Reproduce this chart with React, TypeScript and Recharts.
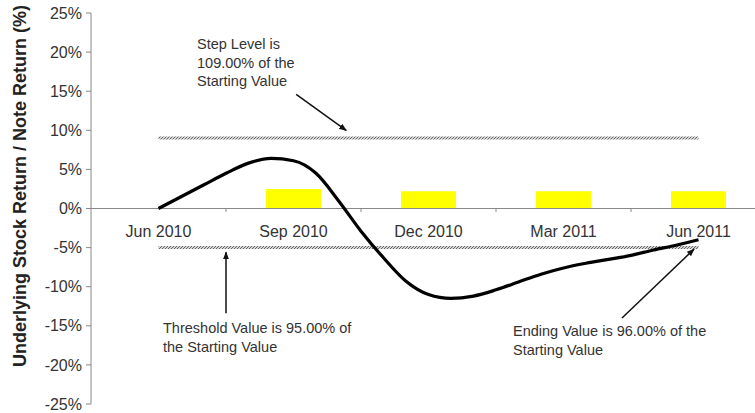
import {
  ComposedChart,
  Bar,
  Line,
  XAxis,
  YAxis,
  ReferenceLine,
} from 'recharts';

// quarterly observation dates + note return paid at each one
const categories = ['Jun 2010', 'Sep 2010', 'Dec 2010', 'Mar 2011', 'Jun 2011'];
const noteReturn = [null, 2.5, 2.2, 2.2, 2.2];

// underlying stock path, months after Jun 2010
const stockMonths = [0, 0.5, 1, 1.5, 2, 2.5, 3, 3.5, 4, 4.5, 5, 5.5, 6, 6.5, 7, 7.5, 8, 8.5, 9, 9.5, 10, 10.5, 11, 11.5, 12];
const stockReturn = [0, 1.5, 3.0, 4.5, 5.8, 6.4, 6.1, 4.5, 1.0, -2.9, -6.3, -9.3, -11.0, -11.5, -11.2, -10.4, -9.4, -8.4, -7.6, -7.0, -6.5, -6.0, -5.3, -4.7, -4.0];

const stepLevel = 9;
const thresholdLevel = -5;
const yTicks = [-25, -20, -15, -10, -5, 0, 5, 10, 15, 20, 25];

const barData = categories.map((cat, i) => ({ cat, note: noteReturn[i] }));
const stockData = stockMonths.map((m, i) => ({ m, v: stockReturn[i] }));
const firstM = stockMonths[0];
const lastM = stockMonths[stockMonths.length - 1];
const stepData = [{ m: firstM, v: stepLevel }, { m: lastM, v: stepLevel }];
const thresholdData = [{ m: firstM, v: thresholdLevel }, { m: lastM, v: thresholdLevel }];

// annotation arrows, in chart units (months, %)
const arrows = [
  { from: { x: 3.06, y: 14.6 }, to: { x: 4.17, y: 10.0 } },
  { from: { x: 1.5, y: -13.4 }, to: { x: 1.5, y: -5.6 } },
  { from: { x: 10.3, y: -14.0 }, to: { x: 11.9, y: -5.2 } },
];
const boundaryTicks = [1.5, 4.5, 7.5, 10.5];

const FONT = '"Liberation Sans", Arial, sans-serif';
const TOP = 13;
const PLOT_H = 391;
const ZERO_Y = TOP + PLOT_H / 2;

function CatTick({ x, payload }: any) {
  return (
    <text x={x} y={ZERO_Y + 28} textAnchor="middle" fontSize={16} fill="#333">
      {payload.value}
    </text>
  );
}

function ArrowShape(props: any) {
  return (
    <line
      x1={props.x1}
      y1={props.y1}
      x2={props.x2}
      y2={props.y2}
      stroke="#111"
      strokeWidth={1.5}
      markerEnd="url(#arrowHead)"
    />
  );
}

const noteStyle = {
  position: 'absolute' as const,
  fontSize: 14.5,
  lineHeight: '18.5px',
  color: '#333',
  whiteSpace: 'nowrap' as const,
};

export default function App() {
  return (
    <div
      style={{
        position: 'absolute',
        left: 0,
        top: 0,
        width: 755,
        height: 413,
        overflow: 'hidden',
        background: '#fff',
        fontFamily: FONT,
      }}
    >
      <ComposedChart
        width={775}
        height={413}
        data={barData}
        margin={{ top: TOP, right: 9, bottom: 0, left: 0 }}
      >
        <defs>
          <pattern id="hatch" width="3" height="3" patternUnits="userSpaceOnUse">
            <rect width="3" height="3" fill="#d4d4d4" />
            <path d="M0,3 L3,0" stroke="#666" strokeWidth="1" />
          </pattern>
          <marker
            id="arrowHead"
            markerWidth="8"
            markerHeight="8"
            refX="7"
            refY="4"
            orient="auto"
            markerUnits="userSpaceOnUse"
          >
            <path d="M0,1 L8,4 L0,7 z" fill="#111" />
          </marker>
        </defs>
        <XAxis
          xAxisId="cat"
          dataKey="cat"
          type="category"
          height={9}
          axisLine={false}
          tickLine={false}
          tick={<CatTick />}
          interval={0}
        />
        <XAxis
          xAxisId="m"
          dataKey="m"
          type="number"
          domain={[-1.5, 13.5]}
          allowDataOverflow
          hide
        />
        <YAxis
          domain={[-25, 25]}
          ticks={yTicks}
          width={91}
          tickSize={5}
          tickMargin={4}
          tickFormatter={(v: number) => `${v}%`}
          tick={{ fontSize: 16, fill: '#333' }}
          stroke="#888"
          label={{
            content: () => (
              <text
                x={20}
                y={186}
                transform="rotate(-90 20 186)"
                textAnchor="middle"
                dominantBaseline="central"
                fontSize={18}
                fontWeight="bold"
                fill="#222"
              >
                Underlying Stock Return / Note Return (%)
              </text>
            ),
          }}
        />
        <ReferenceLine y={0} xAxisId="m" stroke="#888" strokeWidth={1} />
        {boundaryTicks.map((b) => (
          <ReferenceLine
            key={b}
            xAxisId="m"
            segment={[{ x: b, y: 0 }, { x: b, y: -0.45 }]}
            stroke="#888"
          />
        ))}
        <Bar
          xAxisId="cat"
          dataKey="note"
          fill="#ffff00"
          barSize={55}
          isAnimationActive={false}
        />
        <Line
          xAxisId="m"
          data={stepData}
          dataKey="v"
          stroke="url(#hatch)"
          strokeWidth={3}
          dot={false}
          isAnimationActive={false}
        />
        <Line
          xAxisId="m"
          data={thresholdData}
          dataKey="v"
          stroke="url(#hatch)"
          strokeWidth={3}
          dot={false}
          isAnimationActive={false}
        />
        <Line
          xAxisId="m"
          data={stockData}
          dataKey="v"
          type="monotone"
          stroke="#000"
          strokeWidth={3.2}
          dot={false}
          isAnimationActive={false}
        />
        {arrows.map((a, i) => (
          <ReferenceLine
            key={i}
            xAxisId="m"
            segment={[a.from, a.to]}
            shape={ArrowShape}
          />
        ))}
      </ComposedChart>

      <div style={{ ...noteStyle, left: 197, top: 35 }}>
        Step Level is
        <br />
        109.00% of the
        <br />
        Starting Value
      </div>
      <div style={{ ...noteStyle, left: 163, top: 319 }}>
        Threshold Value is 95.00% of
        <br />
        the Starting Value
      </div>
      <div style={{ ...noteStyle, left: 513, top: 322 }}>
        Ending Value is 96.00% of the
        <br />
        Starting Value
      </div>
    </div>
  );
}
